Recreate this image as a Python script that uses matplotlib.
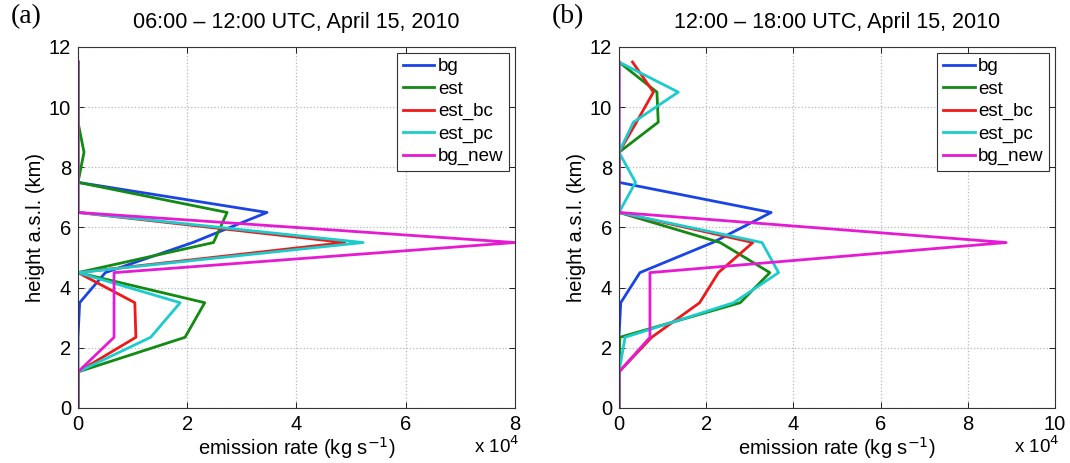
import matplotlib.pyplot as plt
import numpy as np

plt.rcParams['font.family'] = ['Liberation Sans', 'DejaVu Sans']

# model levels (km)
height = [0, 1.2, 2.35, 3.5, 4.5, 5.5, 6.5, 7.5, 8.5, 9.5, 10.5, 11.5]
labels = ['bg', 'est', 'est_bc', 'est_pc', 'bg_new']
colors = ['#1a44e6', '#138a13', '#ee1a1a', '#1ccccc', '#e61ad2']

# panel (a): 06-12 UTC, values in 1e4 kg/s
bg_a = [0, 0, 0, 0.03, 0.5, 2.1, 3.46, 0, 0, 0, 0, 0]
est_a = [0, 0, 1.96, 2.32, 0, 2.48, 2.73, 0, 0.11, 0, 0, 0]
est_bc_a = [0, 0, 1.06, 1.04, 0, 4.88, 0, 0, 0, 0, 0, 0]
est_pc_a = [0, 0, 1.33, 1.87, 0, 5.22, 0, 0, 0, 0, 0, 0]
bg_new_a = [0, 0, 0.66, 0.66, 0.66, 8.0, 0, 0, 0, 0, 0, 0]

# panel (b): 12-18 UTC
bg_b = [0, 0, 0, 0.04, 0.48, 2.15, 3.49, 0, 0, 0, 0, 0]
est_b = [0, 0, 0.02, 2.78, 3.46, 2.32, 0, 0, 0, 0.9, 0.87, 0]
est_bc_b = [0, 0, 0.75, 1.85, 2.28, 3.07, 0, 0, 0, 0.4, 0.79, 0.31]
est_pc_b = [0, 0, 0.14, 2.63, 3.66, 3.28, 0, 0.38, 0, 0.33, 1.36, 0]
bg_new_b = [0, 0, 0.71, 0.71, 0.71, 8.88, 0, 0, 0, 0, 0, 0]

panels = [
    ('(a)', '06:00 \u2013 12:00 UTC, April 15, 2010',
     [bg_a, est_a, est_bc_a, est_pc_a, bg_new_a], 8, [0.0729, 0.1188, 0.4084, 0.7797]),
    ('(b)', '12:00 \u2013 18:00 UTC, April 15, 2010',
     [bg_b, est_b, est_bc_b, est_pc_b, bg_new_b], 10, [0.5785, 0.1188, 0.4075, 0.7797]),
]

fig = plt.figure(figsize=(10.7, 4.63), dpi=100)

for tag, title, series, xmax, pos in panels:
    ax = fig.add_axes(pos)
    for vals, lab, c in zip(series, labels, colors):
        ax.plot(vals, height, color=c, lw=2, label=lab)
    ax.set_xlim(0, xmax)
    ax.set_ylim(0, 12)
    ax.set_xticks(np.arange(0, xmax + 1, 2))
    ax.set_yticks(np.arange(0, 13, 2))
    ax.tick_params(direction='in', labelsize=14.5, length=4, width=0.6,
                   top=True, right=True, pad=5)
    ax.grid(True, linestyle=':', color='#b8b8b8', lw=0.9)
    for s in ax.spines.values():
        s.set_linewidth(0.8)
        s.set_color('#333333')
    ax.set_xlabel('emission rate (kg s$^{-1}$)', fontsize=14.5, labelpad=1)
    ax.set_ylabel('height a.s.l. (km)', fontsize=14.5, labelpad=3)
    ax.set_title(title, fontsize=15.5, pad=14)
    ax.text(-0.155, 1.05, tag, transform=ax.transAxes, fontsize=20,
            family=['Liberation Serif', 'DejaVu Serif'], va='bottom')
    ax.text(1.01, -0.075, r'x 10$^4$', transform=ax.transAxes, fontsize=13.5,
            ha='right', va='top')
    leg = ax.legend(loc='upper right', fontsize=13.5, handlelength=1.7,
                    handletextpad=0.2, labelspacing=0.28, borderpad=0.3,
                    borderaxespad=0.3, fancybox=False, framealpha=1)
    leg.get_frame().set_edgecolor('#333333')
    leg.get_frame().set_linewidth(0.8)

fig.savefig('out.png', dpi=100)
